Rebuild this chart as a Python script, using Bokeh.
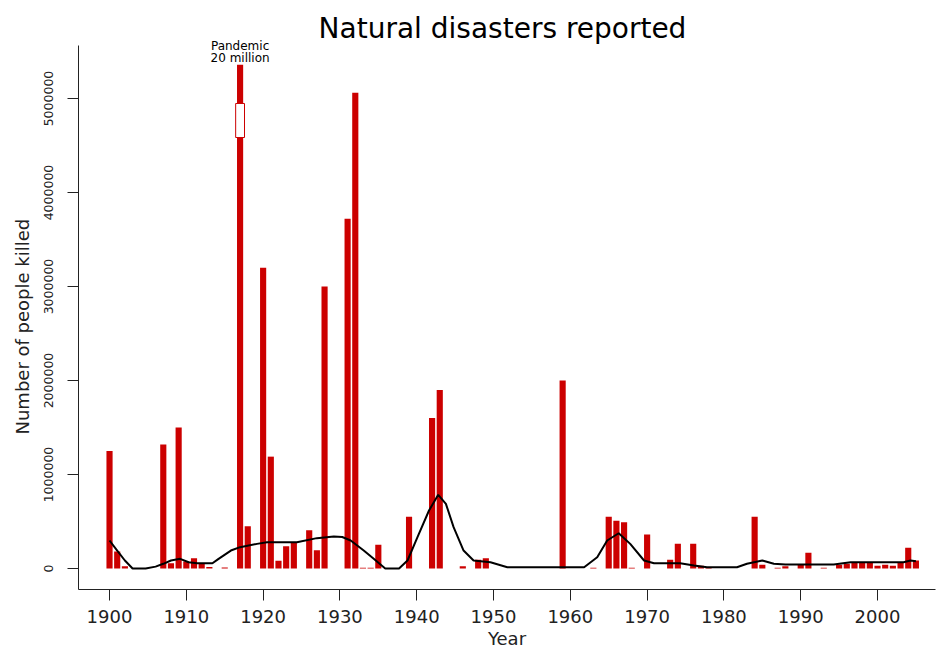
import numpy as np
from bokeh.plotting import figure
from bokeh.models import Range1d, FixedTicker, Label, BasicTickFormatter, Title
from bokeh.embed import file_html
from bokeh.resources import INLINE

# ---------------- data ----------------
bar_years = [1900, 1901, 1902, 1907, 1908, 1909, 1910, 1911, 1912, 1913, 1915,
             1917, 1918, 1920, 1921, 1922, 1923, 1924, 1926, 1927, 1928,
             1931, 1932, 1933, 1934, 1935, 1939, 1942, 1943, 1946, 1948, 1949,
             1959, 1963, 1965, 1966, 1967, 1968, 1970, 1973, 1974, 1976, 1977,
             1978, 1984, 1985, 1987, 1988, 1990, 1991, 1993, 1995, 1996, 1997,
             1998, 1999, 2000, 2001, 2002, 2003, 2004, 2005]
killed = [1250000, 180000, 25000, 1320000, 56000, 1500000, 75000, 110000, 50000, 15000, 10000,
          20000000, 450000, 3200000, 1190000, 82000, 237000, 273000, 407000, 195000, 3000000,
          3720000, 5060000, 8000, 8000, 252000, 550000, 1600000, 1900000, 25000, 92000, 110000,
          2000000, 8000, 550000, 507000, 493000, 8000, 362000, 92000, 263000, 263000, 28000,
          10000, 550000, 40000, 8000, 25000, 40000, 167000, 8000, 40000, 50000, 60000,
          60000, 60000, 30000, 40000, 30000, 60000, 220000, 85000]

smooth_years = [1900, 1901, 1902, 1903, 1904.7, 1906, 1907, 1908, 1909.2, 1910.3, 1911.4,
                1913.4, 1914.2, 1915.8, 1917, 1919.2, 1920.5, 1924.4, 1927, 1929.2, 1930.3,
                1931.4, 1933.1, 1934.4, 1935.9, 1937.7, 1938.8, 1940.1, 1941.6, 1942.8,
                1943.8, 1944.8, 1946.1, 1947.4, 1949.6, 1951.8, 1961.8, 1963.5, 1964.8,
                1966.3, 1967.8, 1969.6, 1970.9, 1974.3, 1976.1, 1977.8, 1981.7, 1983,
                1985, 1986.5, 1988, 1994.3, 1996.5, 2003.4, 2004.3, 2005]
smooth_vals = [298000, 190000, 85000, 0, 0, 20000, 50000, 85000, 103000, 67000, 56000,
               56000, 103000, 191000, 227000, 262000, 280000, 280000, 323000, 340000, 335000,
               298000, 191000, 103000, 0, 0, 85000, 333000, 617000, 784000,
               688000, 440000, 191000, 85000, 67000, 14000, 14000, 120000, 298000,
               375000, 262000, 85000, 56000, 56000, 32000, 14000, 14000, 50000,
               85000, 50000, 43000, 43000, 67000, 67000, 85000, 78000]

x_ticks = [1900, 1910, 1920, 1930, 1940, 1950, 1960, 1970, 1980, 1990, 2000]
y_ticks = [0, 1000000, 2000000, 3000000, 4000000, 5000000]

title_text = "Natural disasters reported"
x_label = "Year"
y_label = "Number of people killed"
pandemic_note = ["Pandemic", "20 million"]

DISPLAY_CAP = 5360000            # the off-scale bar is cut at this height
BREAK_RANGE = (4585000, 4947000)  # axis-break marker drawn on that bar

X_RANGE = (1895.96, 2007.55)
Y_RANGE = (-223400, 6042550)      # frame reaches the top of the canvas
Y_AXIS_TOP = 5563800              # the drawn y axis line stops here

RED = "#CC0000"
INK = "#222222"
FONT = "DejaVu Sans"

# ---------------- figure ----------------
p = figure(width=938, height=651, output_backend="svg", toolbar_location=None,
           x_range=Range1d(*X_RANGE), y_range=Range1d(*Y_RANGE),
           min_border_left=78, min_border_right=3, min_border_bottom=62,
           min_border_top=0)
p.outline_line_color = None
p.xgrid.visible = False
p.ygrid.visible = False
p.background_fill_color = "white"
p.border_fill_color = "white"

# axes
p.xaxis.ticker = FixedTicker(ticks=x_ticks)
p.yaxis.ticker = FixedTicker(ticks=y_ticks)
p.yaxis.formatter = BasicTickFormatter(use_scientific=False)
p.yaxis.bounds = (Y_RANGE[0], Y_AXIS_TOP)
for ax in (p.xaxis[0], p.yaxis[0]):
    ax.axis_line_color = INK
    ax.axis_line_width = 1
    ax.major_tick_line_color = INK
    ax.major_tick_in = 0
    ax.major_tick_out = 11
    ax.minor_tick_line_color = None
    ax.major_label_text_font = FONT
    ax.major_label_text_color = INK
    ax.axis_label_text_font = FONT
    ax.axis_label_text_font_size = "18px"
    ax.axis_label_text_font_style = "normal"
    ax.axis_label_text_color = INK

p.xaxis.major_label_text_font_size = "18px"
p.xaxis.major_label_standoff = 9
p.xaxis.axis_label = x_label
p.xaxis.axis_label_standoff = 2

p.yaxis.major_label_text_font_size = "12.5px"
p.yaxis.major_label_orientation = "vertical"
p.yaxis.major_label_standoff = 14

# y axis title: placed along the drawn part of the axis
p.add_layout(Title(text=y_label, align="left", offset=155, standoff=18,
                   text_font=FONT, text_font_size="18px", text_font_style="normal",
                   text_color=INK), "left")

# main title drawn inside the (tall) frame
p.add_layout(Label(x=424, y=561, x_units="screen", y_units="screen", text=title_text,
                   text_align="center", text_baseline="alphabetic",
                   text_font=FONT, text_font_size="28px", text_color="black"))

# bars (off-scale bar cut at DISPLAY_CAP)
shown = np.minimum(np.array(killed, dtype=float), DISPLAY_CAP)
p.vbar(x=bar_years, top=shown, bottom=0, width=0.8,
       fill_color=RED, line_color=None)

# axis-break marker on the pandemic bar
pandemic_year = bar_years[int(np.argmax(killed))]
p.rect(x=[pandemic_year], y=[(BREAK_RANGE[0] + BREAK_RANGE[1]) / 2],
       width=1.15, height=BREAK_RANGE[1] - BREAK_RANGE[0],
       fill_color="white", line_color=RED, line_width=1)

# smoothed line
p.line(smooth_years, smooth_vals, line_color="black", line_width=2)

# pandemic note
for txt, off in zip(pandemic_note, (19, 7)):
    p.add_layout(Label(x=pandemic_year, y=DISPLAY_CAP, y_offset=off, text=txt,
                       text_align="center", text_baseline="middle",
                       text_font=FONT, text_font_size="12px", text_color="black"))

open("out.html", "w").write(file_html(p, INLINE))
